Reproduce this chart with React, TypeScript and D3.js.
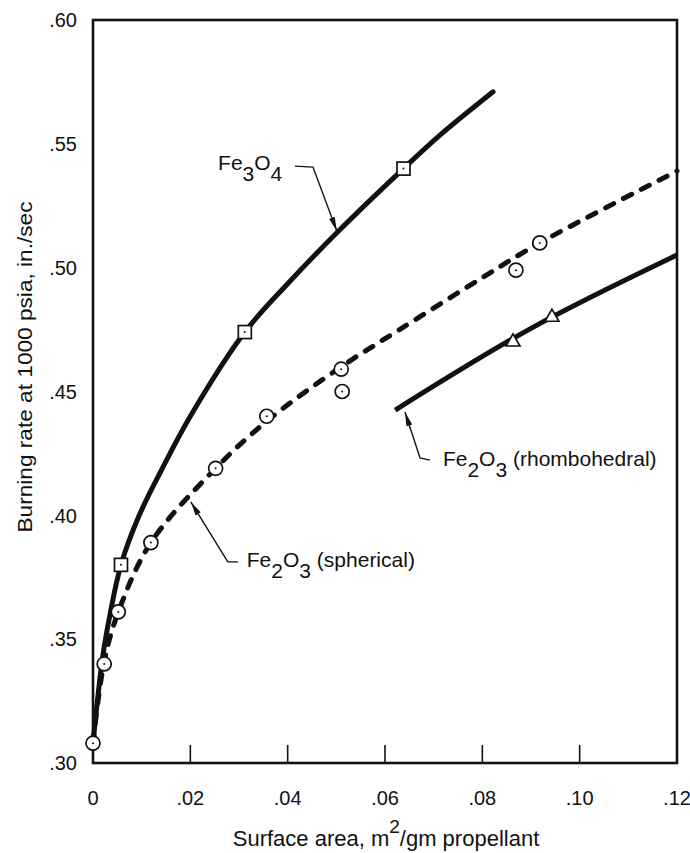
import React from "react";
import * as d3 from "d3";

// ---- data ----
const X_TICKS = [0, 0.02, 0.04, 0.06, 0.08, 0.1, 0.12];
const X_TICK_LABELS = ["0", ".02", ".04", ".06", ".08", ".10", ".12"];
const Y_TICKS = [0.3, 0.35, 0.4, 0.45, 0.5, 0.55, 0.6];
const Y_TICK_LABELS = [".30", ".35", ".40", ".45", ".50", ".55", ".60"];

// Fe3O4 (squares)
const FE3O4_X = [0.00575, 0.0312, 0.0638];
const FE3O4_Y = [0.38, 0.474, 0.54];
const FE3O4_CURVE_X = [0, 0.002, 0.0035, 0.00575, 0.0095, 0.014, 0.02, 0.0312, 0.04, 0.0503, 0.0638, 0.0713, 0.0822];
const FE3O4_CURVE_Y = [0.308, 0.343, 0.36, 0.38, 0.4, 0.418, 0.44, 0.474, 0.4935, 0.5145, 0.54, 0.5535, 0.571];

// Fe2O3 spherical (circles)
const SPH_X = [0, 0.0023, 0.0052, 0.0119, 0.0252, 0.0357, 0.051, 0.0512, 0.0869, 0.0918];
const SPH_Y = [0.308, 0.34, 0.361, 0.389, 0.419, 0.44, 0.459, 0.45, 0.499, 0.51];
const SPH_CURVE_X = [0, 0.0023, 0.0052, 0.0119, 0.0252, 0.0357, 0.051, 0.063, 0.08, 0.0918, 0.12];
const SPH_CURVE_Y = [0.308, 0.341, 0.361, 0.389, 0.419, 0.438, 0.46, 0.475, 0.496, 0.51, 0.539];

// Fe2O3 rhombohedral (triangles)
const RHO_X = [0.0863, 0.0943];
const RHO_Y = [0.47, 0.48];
const RHO_CURVE_X = [0.0621, 0.09, 0.12];
const RHO_CURVE_Y = [0.4425, 0.4755, 0.5051];

const X_TITLE = "Surface area, m";
const X_TITLE_SUP = "2";
const X_TITLE_END = "/gm propellant";
const Y_TITLE = "Burning rate at 1000 psia, in./sec";

const FONT = "'Liberation Sans', Arial, sans-serif";
const INK = "#111";

const W = 690;
const H = 853;

const x = d3.scaleLinear().domain([0, 0.12]).range([93, 677]);
const y = d3.scaleLinear().domain([0.3, 0.6]).range([763, 20]);

const zip = (xs: number[], ys: number[]) => xs.map((v, i) => [v, ys[i]] as [number, number]);

const line = d3
  .line<[number, number]>()
  .x((d) => x(d[0]))
  .y((d) => y(d[1]))
  .curve(d3.curveCatmullRom.alpha(0.5));

function Arrow({ pts }: { pts: [number, number][] }) {
  const p = pts.map((d) => [x(d[0]), y(d[1])]);
  const n = p.length;
  const [tx, ty] = p[n - 1];
  const [sx, sy] = p[n - 2];
  const ang = Math.atan2(ty - sy, tx - sx);
  const L = 14;
  const Wd = 3;
  const bx = tx - L * Math.cos(ang);
  const by = ty - L * Math.sin(ang);
  const nx = -Math.sin(ang) * Wd;
  const ny = Math.cos(ang) * Wd;
  return (
    <g>
      <polyline points={p.map((d) => d.join(",")).join(" ")} fill="none" stroke={INK} strokeWidth={1.4} />
      <polygon points={`${tx},${ty} ${bx + nx},${by + ny} ${bx - nx},${by - ny}`} fill={INK} />
    </g>
  );
}

function Label({ at, parts, size = 21 }: { at: [number, number]; parts: [string, boolean][]; size?: number }) {
  const nodes: React.ReactNode[] = [];
  let low = false;
  parts.forEach(([t, sub], i) => {
    let dy = 0;
    if (sub && !low) dy = 11;
    if (!sub && low) dy = -11;
    low = sub;
    nodes.push(
      <tspan key={i} dy={dy}>
        {t}
      </tspan>
    );
  });
  return (
    <text x={x(at[0])} y={y(at[1])} fontFamily={FONT} fontSize={size} fill={INK}>
      {nodes}
    </text>
  );
}

export default function App() {
  const sq = 13;
  const tri = 14;
  return (
    <svg
      width={W}
      height={H}
      viewBox={`0 0 ${W} ${H}`}
      style={{ position: "absolute", left: 0, top: 0, background: "#fff" }}
    >
      <rect x={0} y={0} width={W} height={H} fill="#fff" />

      {/* frame */}
      <rect
        x={x(0)}
        y={y(0.6)}
        width={x(0.12) - x(0)}
        height={y(0.3) - y(0.6)}
        fill="none"
        stroke={INK}
        strokeWidth={2.6}
      />
      {X_TICKS.slice(1, -1).map((t) => (
        <line key={t} x1={x(t)} x2={x(t)} y1={y(0.3)} y2={y(0.3) - 18} stroke={INK} strokeWidth={1.6} />
      ))}

      {X_TICKS.map((t, i) => (
        <text key={t} x={x(t)} y={805} textAnchor="middle" fontFamily={FONT} fontSize={20} fill={INK}>
          {X_TICK_LABELS[i]}
        </text>
      ))}
      {Y_TICKS.map((t, i) => (
        <text
          key={t}
          x={77}
          y={y(t)}
          dy="0.36em"
          textAnchor="end"
          fontFamily={FONT}
          fontSize={20}
          fill={INK}
        >
          {Y_TICK_LABELS[i]}
        </text>
      ))}

      <text x={386} y={846} textAnchor="middle" fontFamily={FONT} fontSize={22} fill={INK}>
        <tspan>{X_TITLE}</tspan>
        <tspan dy={-13} fontSize={19}>
          {X_TITLE_SUP}
        </tspan>
        <tspan dy={13}>{X_TITLE_END}</tspan>
      </text>
      <text
        transform={`translate(32, 367) rotate(-90)`}
        textAnchor="middle"
        fontFamily={FONT}
        fontSize={21}
        fill={INK}
        textLength={331}
        lengthAdjust="spacingAndGlyphs"
      >
        {Y_TITLE}
      </text>

      {/* curves */}
      <path d={line(zip(FE3O4_CURVE_X, FE3O4_CURVE_Y)) || ""} fill="none" stroke={INK} strokeWidth={5} strokeLinecap="round" />
      <path
        d={line(zip(SPH_CURVE_X, SPH_CURVE_Y)) || ""}
        fill="none"
        stroke={INK}
        strokeWidth={5}
        strokeDasharray="9 11"
        strokeLinecap="round"
      />
      <path d={line(zip(RHO_CURVE_X, RHO_CURVE_Y)) || ""} fill="none" stroke={INK} strokeWidth={5} strokeLinecap="butt" />

      {/* markers */}
      {SPH_X.map((v, i) => (
        <g key={"c" + i}>
          <circle cx={x(v)} cy={y(SPH_Y[i])} r={7} fill="#fff" stroke={INK} strokeWidth={1.7} />
          <circle cx={x(v)} cy={y(SPH_Y[i])} r={1} fill={INK} />
        </g>
      ))}
      {FE3O4_X.map((v, i) => (
        <g key={"s" + i}>
          <rect x={x(v) - sq / 2} y={y(FE3O4_Y[i]) - sq / 2} width={sq} height={sq} fill="#fff" stroke={INK} strokeWidth={1.7} />
          <circle cx={x(v)} cy={y(FE3O4_Y[i])} r={1} fill={INK} />
        </g>
      ))}
      {RHO_X.map((v, i) => {
        const cx = x(v);
        const cy = y(RHO_Y[i]);
        const h = (tri * Math.sqrt(3)) / 2;
        return (
          <polygon
            key={"t" + i}
            points={`${cx},${cy - (2 * h) / 3} ${cx - tri / 2},${cy + h / 3} ${cx + tri / 2},${cy + h / 3}`}
            fill="#fff"
            stroke={INK}
            strokeWidth={1.7}
          />
        );
      })}

      {/* annotations */}
      <Label at={[0.0257, 0.5394]} parts={[["Fe", false], ["3", true], ["O", false], ["4", true]]} />
      <Arrow pts={[[0.0415, 0.541], [0.0452, 0.5406], [0.0501, 0.5148]]} />

      <Label
        at={[0.0316, 0.3791]}
        parts={[["Fe", false], ["2", true], ["O", false], ["3", true], [" (spherical)", false]]}
      />
      <Arrow pts={[[0.0298, 0.3812], [0.0277, 0.3812], [0.0201, 0.4054]]} />

      <Label
        at={[0.0719, 0.4199]}
        parts={[["Fe", false], ["2", true], ["O", false], ["3", true], [" (rhombohedral)", false]]}
      />
      <Arrow pts={[[0.0692, 0.4223], [0.0672, 0.4232], [0.0641, 0.4417]]} />
    </svg>
  );
}
